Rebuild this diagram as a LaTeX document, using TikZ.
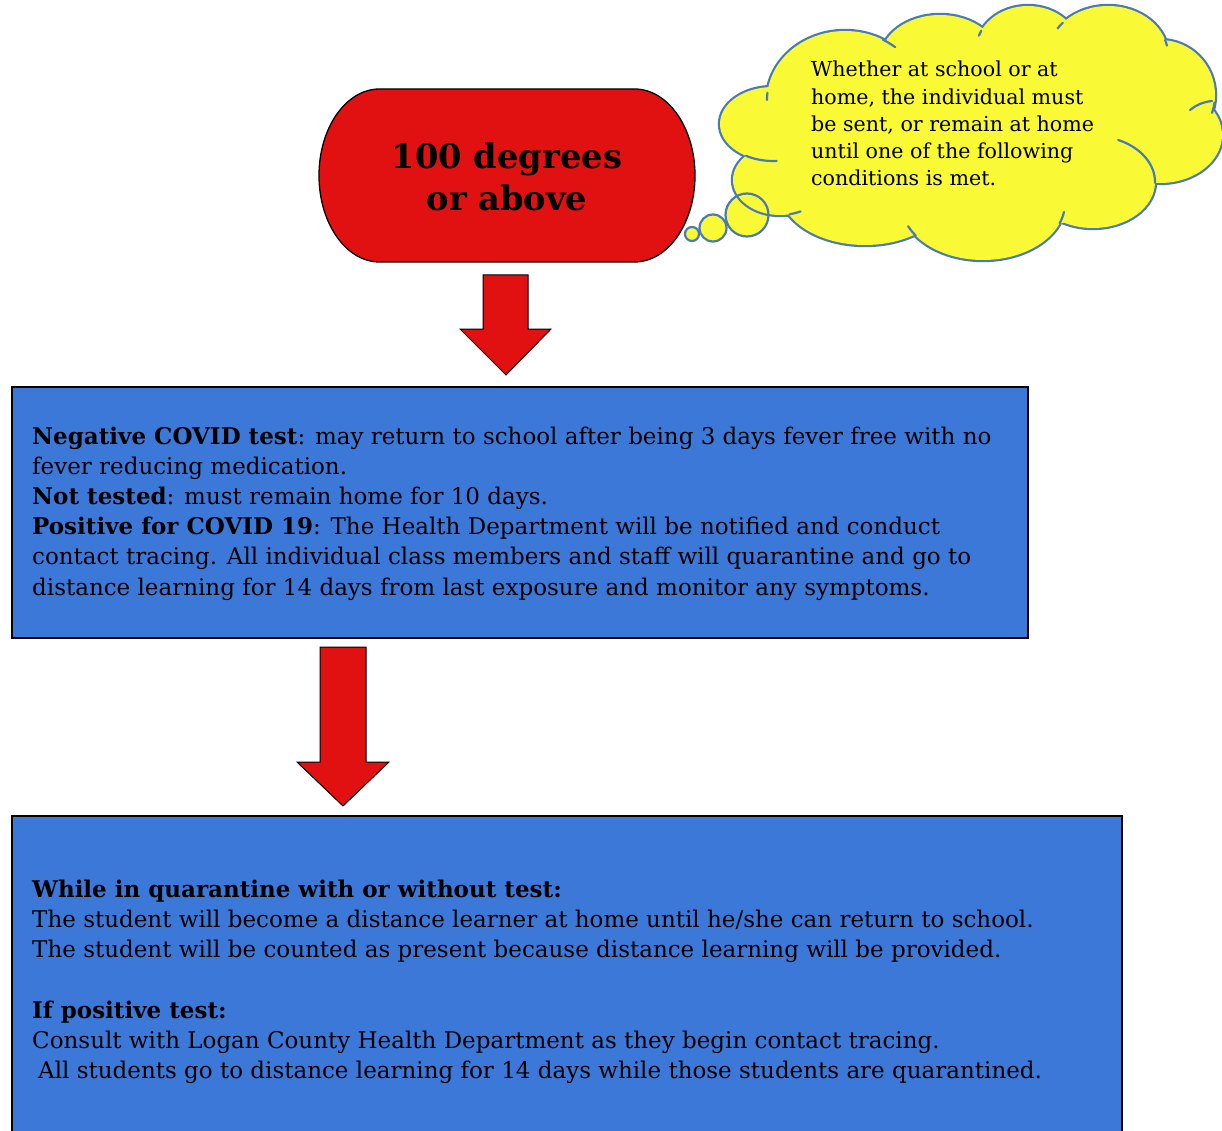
\documentclass[tikz,border=0pt]{standalone}
\usepackage{fontspec}
\setmainfont{DejaVu Serif}
\definecolor{boxblue}{HTML}{3C78D8}
\definecolor{tred}{HTML}{E11111}
\definecolor{cloudyellow}{HTML}{F9F936}
\definecolor{cloudline}{HTML}{4A7AB5}
\begin{document}
\begin{tikzpicture}[x=1pt,y=-1pt,
  infobox/.style={draw=black, line width=1.5pt, fill=boxblue, inner sep=0pt, anchor=north west},
  blockarrow/.style={draw=black, line width=1pt, fill=tred, line join=miter},
  cloudstroke/.style={draw=cloudline, line width=2.2pt, line cap=round},
  txt/.style={anchor=base west, inner sep=0pt}]
\useasboundingbox (0,0) rectangle (1222,1131);

% title terminator
\draw[fill=tred, line width=1.3pt] (379.5,89) -- (634.5,89)
  arc[start angle=-90, delta angle=180, x radius=60.5, y radius=86.5]
  -- (379.5,262)
  arc[start angle=90, delta angle=180, x radius=60.5, y radius=86.5] -- cycle;
\node[anchor=base, inner sep=0pt] (title) at (507,169)
  {\parbox[t]{360pt}{\centering\fontsize{33.7}{41.5}\selectfont\bfseries 100 degrees\\or above}};

% thought bubbles (fill)
\fill[cloudyellow] (747,215) circle[radius=21.5];
\fill[cloudyellow] (713,228) circle[radius=13.5];
\fill[cloudyellow] (692,234) circle[radius=7];

% cloud: union of puffs (outline = outer half of a double-width stroke)
\def\puffs{845/100/78/69, 940/60/60/45, 1028/50/52/44, 1108/55/60/49, 1160/95/55/55,
  1160/135/62/48, 1093/182/62/46, 983/203/82/57, 865/190/85/55, 780/180/47/35, 773/124/53/37}
\foreach \cx/\cy/\rx/\ry in \puffs {
  \draw[cloudline, line width=4.4pt] (\cx,\cy) ellipse[x radius=\rx, y radius=\ry];
}
\foreach \cx/\cy/\rx/\ry in \puffs {
  \fill[cloudyellow] (\cx,\cy) ellipse[x radius=\rx, y radius=\ry];
}
\fill[cloudyellow] (970,140) ellipse[x radius=190, y radius=95];

% cloud inner tails
\draw[cloudstroke] (773,124) ++(120.6:53 and 37) arc[start angle=120.6, end angle=86, x radius=53, y radius=37];
\draw[cloudstroke] (845,100) ++(186:78 and 69) arc[start angle=186, end angle=180, x radius=78, y radius=69];
\draw[cloudstroke] (845,100) ++(-61:78 and 69) arc[start angle=-61, end angle=-50, x radius=78, y radius=69];
\draw[cloudstroke] (1028,50) ++(206:52 and 44) arc[start angle=206, end angle=199, x radius=52, y radius=44];
\draw[cloudstroke] (1108,55) ++(221:60 and 49) arc[start angle=221, end angle=213, x radius=60, y radius=49];
\draw[cloudstroke] (1108,55) ++(-18:60 and 49) arc[start angle=-18, end angle=-11, x radius=60, y radius=49];
\draw[cloudstroke] (1160,95) ++(8:55 and 55) arc[start angle=8, end angle=19, x radius=55, y radius=55];
\draw[cloudstroke] (1212,101) .. controls (1203,102) and (1196,105) .. (1190,110);
\draw[cloudstroke] (1093,182) ++(1:62 and 46) arc[start angle=1, end angle=-66, x radius=62, y radius=46];
\draw[cloudstroke] (983,203) ++(21:82 and 57) arc[start angle=21, end angle=9, x radius=82, y radius=57];
\draw[cloudstroke] (983,203) ++(145:82 and 57) arc[start angle=145, end angle=156, x radius=82, y radius=57];
\draw[cloudstroke] (780,180) ++(78:47 and 35) arc[start angle=78, end angle=64, x radius=47, y radius=35];

% thought bubbles (outline)
\draw[cloudstroke] (747,215) circle[radius=21.5];
\draw[cloudstroke, fill=cloudyellow] (713,228) circle[radius=13.5];
\draw[cloudstroke, fill=cloudyellow] (692,234) circle[radius=7];

\node[txt] (cloudtext) at (811,77)
  {\parbox[t]{340pt}{\fontsize{20.6}{27.2}\selectfont\raggedright
   Whether at school or at\\home, the individual must\\be sent, or remain at home\\until one of the following\\conditions is met.}};

% arrow 1
\draw[blockarrow] (483,275) -- (528,275) -- (528,329) -- (551,329) -- (506,375) -- (460,329) -- (483,329) -- cycle;

% box 1
\node[infobox, minimum width=1016pt, minimum height=251pt] (box1) at (11,386) {};
\node[txt] (box1text) at (32,444)
  {\parbox[t]{1100pt}{\fontsize{23}{30.2}\selectfont\raggedright
   \textbf{Negative COVID test}: may return to school after being 3 days fever free with no\\
   fever reducing medication.\\
   \textbf{Not tested}: must remain home for 10 days.\\
   \textbf{Positive for COVID 19}: The Health Department will be notified and conduct\\
   contact tracing. All individual class members and staff will quarantine and go to\\
   distance learning for 14 days from last exposure and monitor any symptoms.}};

% arrow 2
\draw[blockarrow] (320,647) -- (366,647) -- (366,762) -- (389,762) -- (343,806) -- (297,762) -- (320,762) -- cycle;

% box 2
\node[infobox, minimum width=1110pt, minimum height=340pt] (box2) at (11,815) {};
\node[txt] (box2text) at (32,897)
  {\parbox[t]{1150pt}{\fontsize{23}{30.2}\selectfont\raggedright
   \textbf{While in quarantine with or without test:}\\
   The student will become a distance learner at home until he/she can return to school.\\
   The student will be counted as present because distance learning will be provided.\\[30.6pt]
   \textbf{If positive test:}\\
   Consult with Logan County Health Department as they begin contact tracing.\\
   \hspace*{6pt}All students go to distance learning for 14 days while those students are quarantined.}};
\end{tikzpicture}
\end{document}
